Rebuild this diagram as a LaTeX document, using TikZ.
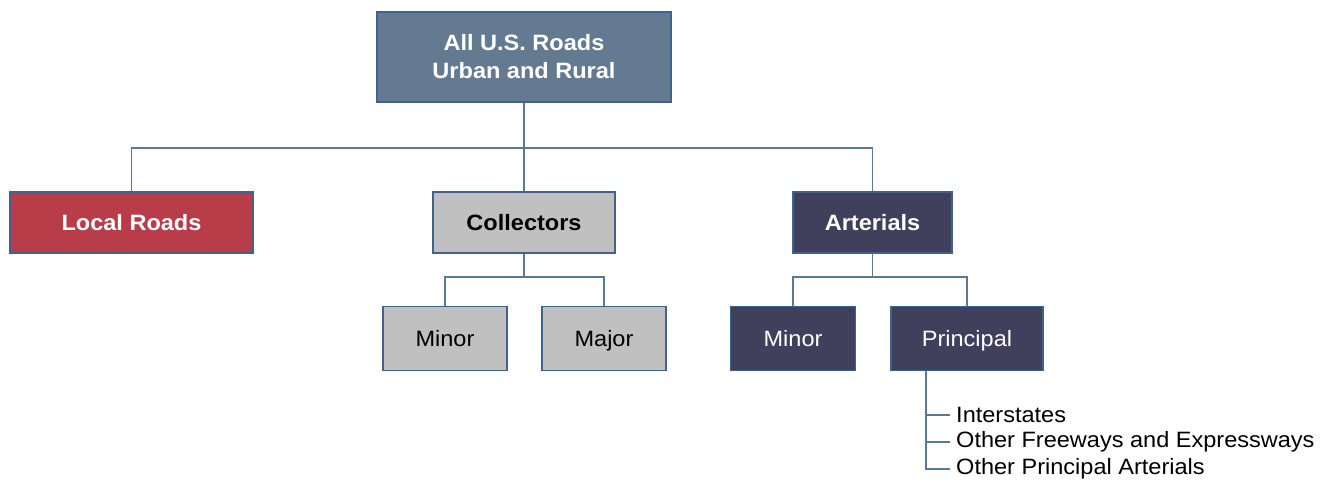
\documentclass[tikz,border=0pt]{standalone}
\usepackage{fontspec}
\setmainfont{Liberation Sans}[FakeStretch=1.06]
\definecolor{topfill}{HTML}{647A91}
\definecolor{boxborder}{HTML}{41618F}
\definecolor{localfill}{HTML}{B93C49}
\definecolor{grayfill}{HTML}{C0C0C0}
\definecolor{navyfill}{HTML}{41405C}
\definecolor{linec}{HTML}{5B7898}
\begin{document}
\begin{tikzpicture}[x=1pt,y=-1pt,
  box/.style={draw=boxborder,line width=1.6pt,inner sep=0pt,align=center,text height=16pt,text depth=0pt,font=\fontsize{22.2}{26}\selectfont},
  conn/.style={draw=linec,line width=1.8pt},
  item/.style={anchor=west,inner xsep=6pt,inner ysep=0pt,font=\fontsize{22.2}{26}\selectfont}]
\useasboundingbox (0,0) rectangle (1335,483);
\node[box,fill=topfill,text=white,text height=,text depth=,font=\bfseries\fontsize{22.2}{28}\selectfont,minimum width=294pt,minimum height=90pt] (top) at (524,57) {All U.S. Roads\\Urban and Rural};
\node[box,fill=localfill,text=white,font=\bfseries\fontsize{22.2}{26}\selectfont,minimum width=243pt,minimum height=61pt] (local) at (131.5,222.5) {Local Roads};
\node[box,fill=grayfill,text=black,font=\bfseries\fontsize{22.2}{26}\selectfont,minimum width=182pt,minimum height=61pt] (coll) at (524,222.5) {Collectors};
\node[box,fill=navyfill,text=white,font=\bfseries\fontsize{22.2}{26}\selectfont,minimum width=159pt,minimum height=61pt] (art) at (872.5,222.5) {Arterials};
\node[box,fill=grayfill,text=black,minimum width=124pt,minimum height=64pt] (cmin) at (445,338.5) {Minor};
\node[box,fill=grayfill,text=black,minimum width=124pt,minimum height=64pt] (cmaj) at (604,338.5) {Major};
\node[box,fill=navyfill,text=white,minimum width=125pt,minimum height=64pt] (amin) at (793,338.5) {Minor};
\node[box,fill=navyfill,text=white,minimum width=152pt,minimum height=64pt] (prin) at (967,338.5) {Principal};
\node[item] (i1) at (950,415) {Interstates};
\node[item] (i2) at (950,442) {Other Freeways and Expressways};
\node[item] (i3) at (950,469) {Other Principal Arterials};
\coordinate (j1) at (top.south |- 0,148);
\coordinate (j2) at (coll.south |- 0,277);
\coordinate (j3) at (art.south |- 0,277);
\coordinate (pl) at ([xshift=-41pt]prin.south);
\draw[conn] (top.south) -- (j1);
\draw[conn] (local.north) |- (j1) -| (art.north);
\draw[conn] (j1) -- (coll.north);
\draw[conn] (coll.south) -- (j2);
\draw[conn] (cmin.north) |- (j2) -| (cmaj.north);
\draw[conn] (art.south) -- (j3);
\draw[conn] (amin.north) |- (j3) -| (prin.north);
\draw[conn] (pl) |- (i3.west);
\draw[conn] (pl |- i1.west) -- (i1.west);
\draw[conn] (pl |- i2.west) -- (i2.west);
\end{tikzpicture}
\end{document}
